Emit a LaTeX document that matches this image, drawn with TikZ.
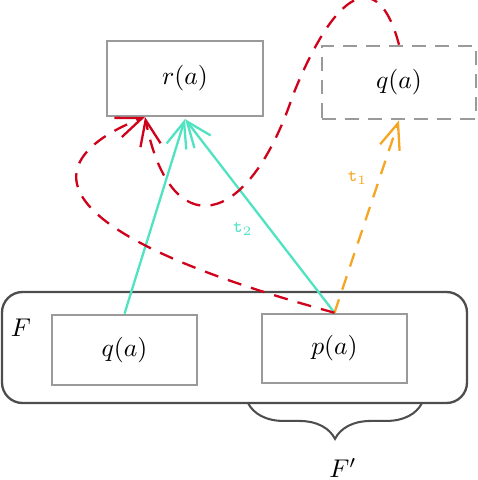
\documentclass[tikz,border=0pt]{standalone}
\usetikzlibrary{arrows.meta,decorations.pathreplacing}
\definecolor{boxgray}{HTML}{9A9A9A}
\definecolor{framegray}{HTML}{4D4D4D}
\definecolor{redc}{HTML}{D0021B}
\definecolor{tealc}{HTML}{50E3C2}
\definecolor{orangec}{HTML}{F5A623}
\begin{document}
\begin{tikzpicture}[x=0.39pt,y=-0.39pt,
  pbox/.style={draw=boxgray,line width=1pt,minimum width={#1*0.39pt},inner sep=0pt},
  barb/.style={-{Straight Barb[length=10pt,width=8pt]},line width=0.9pt},
  reddash/.style={barb,draw=redc,dash pattern=on 5.5pt off 4pt},
  lab/.style={font=\scriptsize}]
\useasboundingbox (0,0) rectangle (478,480);
% frame F
\draw[framegray,line width=0.9pt,rounded corners=8pt] (2,292) rectangle (467,403);
\node (Flab) at (21,328) {$F$};
% boxes
\node[pbox=156,minimum height={75*0.39pt}] (ra) at (185,78.5) {$r(a)$};
\node[pbox=154,minimum height={73*0.39pt},dash pattern=on 5.5pt off 3.5pt] (qa2) at (399,82.5) {$q(a)$};
\node[pbox=145,minimum height={70*0.39pt}] (qa) at (124.5,350) {$q(a)$};
\node[pbox=145,minimum height={69*0.39pt}] (pa) at (334.5,348.5) {$p(a)$};
% brace
\coordinate (bl) at (248,403);
\coordinate (br) at (422,403);
\draw[framegray,line width=0.8pt,decorate,decoration={brace,mirror,amplitude=14pt,raise=0pt}] (bl) -- (br);
\node (Fp) at (343,468) {$F'$};
% coordinates for tips
\coordinate (raR) at (145,117);
\coordinate (raT) at (185,119);
% teal
\draw[barb,draw=tealc] (qa.north) -- (raT);
\draw[barb,draw=tealc] (pa.north) -- node[pos=0.5,below left=-1pt,text=tealc,lab] {\texttt{t}$_2$} (raT);
% orange
\draw[barb,draw=orangec,dash pattern=on 5.5pt off 4pt] (pa.north) -- node[pos=0.7,left=1pt,text=orangec,lab] {\texttt{t}$_1$} (qa2.south);
% red
\draw[reddash] (pa.north) .. controls (-5,220) and (60,150) .. (raR);
\draw[reddash] (qa2.north) .. controls (378,-35) and (335,-10) .. (293,95)
   .. controls (248,230) and (170,245) .. (raR);
\end{tikzpicture}
\end{document}
